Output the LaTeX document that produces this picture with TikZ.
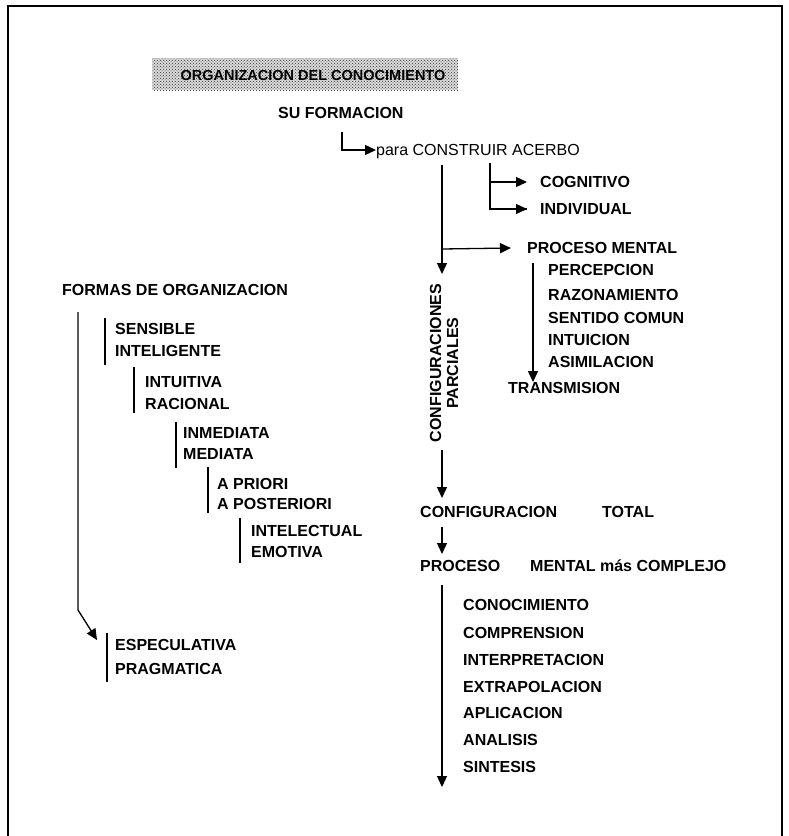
\documentclass[tikz,border=0pt]{standalone}
\usepackage{fontspec}
\setmainfont{Liberation Sans}
\usetikzlibrary{arrows.meta, patterns}

\tikzset{
	txt/.style={font=\bfseries\fontsize{16}{19}\selectfont, inner sep=0pt, anchor=west, text height=11.5pt, text depth=0pt},
	txtn/.style={txt, font=\fontsize{16}{19}\selectfont},
	ln/.style={line width=1.3pt},
	arr/.style={ln, -{Triangle[length=11pt,width=10pt]}},
	bar/.style={line width=1.3pt}
}

\begin{document}
\begin{tikzpicture}[x=1pt, y=-1pt]
			\useasboundingbox (0,0) rectangle (789,836);
			\draw[line width=2pt] (8,836) -- (8,6) -- (782,6) -- (782,836);
			
			\fill[black!15] (152,58) rectangle (458,90);
			\fill[pattern=crosshatch dots, pattern color=black!80] (152,58) rectangle (458,90);
			\node[txt, anchor=center, font=\bfseries\fontsize{14.5}{16}\selectfont] (tit) at (313,75) {ORGANIZACION DEL CONOCIMIENTO};
			
			\node[txt] (suf) at (278,113) {SU FORMACION};
			\node[txtn] (acer) at (376,150) {para CONSTRUIR ACERBO};
			\coordinate (e1) at (342,132);
			\draw[arr] (e1) |- (acer.west);
			
			\coordinate (m0) at (442,165);
			\coordinate (m1) at (442,249);
			\coordinate (m2) at (442,274);
			\coordinate (c0) at (490,163);
			\node[txt] (cog) at (540,182) {COGNITIVO};
			\node[txt] (ind) at (540,209) {INDIVIDUAL};
			\draw[ln] (c0) |- ([xshift=-13pt]ind.west);
			\draw[arr] (c0 |- cog) -- ([xshift=-13pt]cog.west);
			\draw[arr] (c0 |- ind) -- ([xshift=-13pt]ind.west);
			
			\node[txt] (pm) at (527,248) {PROCESO MENTAL};
			\draw[arr] (m0) -- (m2);
			\draw[arr] (m1) -- ([xshift=-16pt]pm.west);
			
			\node[txt] (per) at (548,270) {PERCEPCION};
			\node[txt] (raz) at (548,295) {RAZONAMIENTO};
			\node[txt] (sen) at (548,318) {SENTIDO COMUN};
			\node[txt] (intu) at (548,340) {INTUICION};
			\node[txt] (asi) at (548,362) {ASIMILACION};
			\node[txt] (tra) at (508,388) {TRANSMISION};
			\coordinate (p0) at (533,263);
			\draw[arr] (p0) -- (p0 |- tra.north);
			
			\node[font=\bfseries\fontsize{16}{17}\selectfont, inner sep=0pt, align=center, rotate=90] (cp) at (444,363) {CONFIGURACIONES\\PARCIALES};
			\node[txt] (ct) at (420,512) {CONFIGURACION};
			\node[txt] (tot) at (602,512) {TOTAL};
			\draw[arr] (442,450) -- (442,498);
			
			\node[txt] (pr) at (420,566) {PROCESO};
			\node[txt] (mc) at (530,566) {MENTAL más COMPLEJO};
			\draw[arr] (442,527) -- (442,554);
			
			\node[txt] (con) at (463,605) {CONOCIMIENTO};
			\node[txt] (com) at (463,633) {COMPRENSION};
			\node[txt] (inte) at (463,660) {INTERPRETACION};
			\node[txt] (ext) at (463,687) {EXTRAPOLACION};
			\node[txt] (apl) at (463,713) {APLICACION};
			\node[txt] (ana) at (463,740) {ANALISIS};
			\node[txt] (sin) at (463,767) {SINTESIS};
			\draw[arr] (442,585) -- (442,787);
			
			\node[txt] (fo) at (62,290) {FORMAS DE ORGANIZACION};
			\node[txt] (sens) at (115,329) {SENSIBLE};
			\node[txt] (intl) at (115,351) {INTELIGENTE};
			\node[txt] (intv) at (145,382) {INTUITIVA};
			\node[txt] (rac) at (145,404) {RACIONAL};
			\node[txt] (inm) at (183,433) {INMEDIATA};
			\node[txt] (med) at (183,454) {MEDIATA};
			\node[txt] (apr) at (217,484) {A PRIORI};
			\node[txt] (apo) at (217,504) {A POSTERIORI};
			\node[txt] (ite) at (251,531) {INTELECTUAL};
			\node[txt] (emo) at (251,552) {EMOTIVA};
			\node[txt] (esp) at (115,645) {ESPECULATIVA};
			\node[txt] (pra) at (115,669) {PRAGMATICA};
			
			\draw[bar] ([xshift=-10pt,yshift=11pt]sens.west) -- ([xshift=-10pt,yshift=-14pt]intl.west);
			\draw[bar] ([xshift=-11pt,yshift=15pt]intv.west) -- ([xshift=-11pt,yshift=-9pt]rac.west);
			\draw[bar] ([xshift=-7pt,yshift=11pt]inm.west) -- ([xshift=-7pt,yshift=-14pt]med.west);
			\draw[bar] ([xshift=-9pt,yshift=17pt]apr.west) -- ([xshift=-9pt,yshift=-9pt]apo.west);
			\draw[bar] ([xshift=-11pt,yshift=13pt]ite.west) -- ([xshift=-11pt,yshift=-11pt]emo.west);
			\draw[bar] ([xshift=-8pt,yshift=12pt]esp.west) -- ([xshift=-8pt,yshift=-13pt]pra.west);
			
			\coordinate (f0) at (78,312);
			\coordinate (f1) at (78,610);
			\draw[arr] (f0) -- (f1) -- ([xshift=-18pt,yshift=5pt]esp.west);
			\end{tikzpicture}
\end{document}
